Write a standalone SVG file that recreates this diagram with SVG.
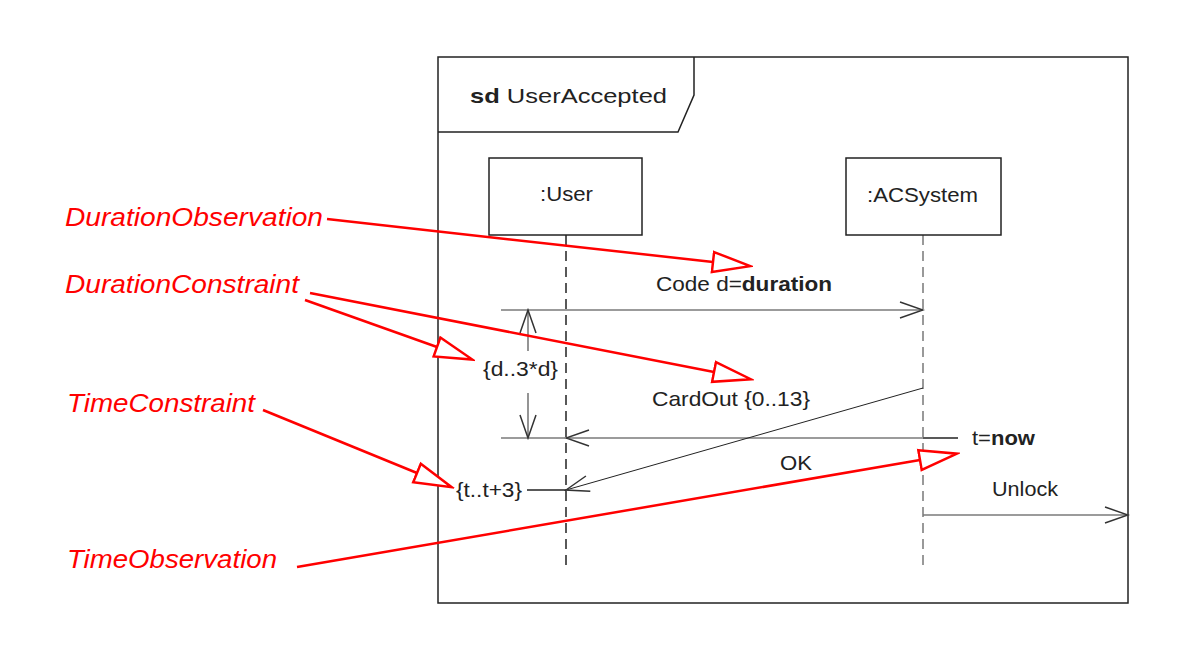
<svg xmlns="http://www.w3.org/2000/svg" width="1204" height="661" viewBox="0 0 1204 661">
<style>
.t{font-family:"Liberation Sans",Arial,sans-serif;font-size:21px;fill:#222}
.b{font-weight:bold}
.r{font-family:"Liberation Sans",Arial,sans-serif;font-size:25px;font-style:italic;fill:#ff0000}
.box{fill:#fff;stroke:#222;stroke-width:1.5}
.msg{stroke:#7a7a7a;stroke-width:1.6;fill:none}
.red{stroke:#ff0000;stroke-width:2.5;fill:none}
</style>
<defs>
<marker id="open" markerUnits="userSpaceOnUse" viewBox="0 0 26 20" markerWidth="26" markerHeight="20" refX="24" refY="10" orient="auto">
<path d="M1,2 L24,10 L1,18" fill="none" stroke="#333" stroke-width="1.5"/>
</marker>
<marker id="tri" markerUnits="userSpaceOnUse" viewBox="0 0 42 24" markerWidth="42" markerHeight="24" refX="1.5" refY="12" orient="auto">
<path d="M1.5,2 L39,12 L1.5,22 Z" fill="#fff" stroke="#ff0000" stroke-width="2.5"/>
</marker>
</defs>
<rect width="1204" height="661" fill="#fff"/>
<g id="frame">
<rect x="438" y="57" width="690" height="546" fill="none" stroke="#222" stroke-width="1.5"/>
<path d="M438,132 L678,132 L694,95 L694,57" fill="none" stroke="#222" stroke-width="1.5"/>
<text class="t" x="470" y="103" font-size="23" textLength="197" lengthAdjust="spacingAndGlyphs"><tspan class="b">sd</tspan> UserAccepted</text>
</g>
<g id="lifelines">
<line x1="566" y1="235" x2="566" y2="568" stroke="#222" stroke-width="1.5" stroke-dasharray="10,6"/>
<line x1="923" y1="235" x2="923" y2="568" stroke="#999" stroke-width="2" stroke-dasharray="10,6"/>
</g>
<g id="user">
<rect class="box" x="489" y="158" width="153" height="77"/>
<text class="t" x="540" y="201" textLength="53" lengthAdjust="spacingAndGlyphs">:User</text>
</g>
<g id="acsystem">
<rect class="box" x="846" y="158" width="155" height="77"/>
<text class="t" x="867" y="202" textLength="111" lengthAdjust="spacingAndGlyphs">:ACSystem</text>
</g>
<g id="connectors">
<line class="msg" x1="501" y1="310" x2="923" y2="310" marker-end="url(#open)"/>
<line class="msg" x1="923" y1="438" x2="566" y2="438" marker-end="url(#open)"/>
<line x1="501" y1="438" x2="566" y2="438" stroke="#7a7a7a" stroke-width="1.6"/>
<line x1="923" y1="438" x2="958" y2="438" stroke="#222" stroke-width="1.6"/>
<line x1="923" y1="388" x2="566" y2="490" stroke="#222" stroke-width="1" marker-end="url(#open)"/>
<line x1="527" y1="490" x2="566" y2="490" stroke="#222" stroke-width="1.6"/>
<line class="msg" x1="923" y1="515" x2="1128" y2="515" marker-end="url(#open)"/>
<line class="msg" x1="528" y1="351" x2="528" y2="310" marker-end="url(#open)"/>
<line class="msg" x1="528" y1="393" x2="528" y2="438" marker-end="url(#open)"/>
<line class="red" x1="327" y1="219" x2="713" y2="262" marker-end="url(#tri)"/>
<line class="red" x1="305" y1="300" x2="437" y2="347" marker-end="url(#tri)"/>
<line class="red" x1="310" y1="293" x2="714" y2="372" marker-end="url(#tri)"/>
<line class="red" x1="263" y1="410" x2="417" y2="473" marker-end="url(#tri)"/>
<line class="red" x1="297" y1="567" x2="920" y2="460" marker-end="url(#tri)"/>
</g>
<g id="message-labels">
<text class="t" x="656" y="291" textLength="176" lengthAdjust="spacingAndGlyphs">Code d=<tspan class="b">duration</tspan></text>
<text class="t" x="652" y="406" textLength="158" lengthAdjust="spacingAndGlyphs">CardOut {0..13}</text>
<text class="t" x="483" y="376" textLength="75" lengthAdjust="spacingAndGlyphs">{d..3*d}</text>
<text class="t" x="456" y="497" textLength="66" lengthAdjust="spacingAndGlyphs">{t..t+3}</text>
<text class="t" x="972" y="445" textLength="63" lengthAdjust="spacingAndGlyphs">t=<tspan class="b">now</tspan></text>
<text class="t" x="780" y="470" textLength="32" lengthAdjust="spacingAndGlyphs">OK</text>
<text class="t" x="992" y="496" textLength="66" lengthAdjust="spacingAndGlyphs">Unlock</text>
</g>
<g id="annotations">
<text class="r" x="65" y="226" textLength="258" lengthAdjust="spacingAndGlyphs">DurationObservation</text>
<text class="r" x="65" y="293" textLength="234" lengthAdjust="spacingAndGlyphs">DurationConstraint</text>
<text class="r" x="67" y="412" textLength="188" lengthAdjust="spacingAndGlyphs">TimeConstraint</text>
<text class="r" x="67" y="568" textLength="210" lengthAdjust="spacingAndGlyphs">TimeObservation</text>
</g>
</svg>
